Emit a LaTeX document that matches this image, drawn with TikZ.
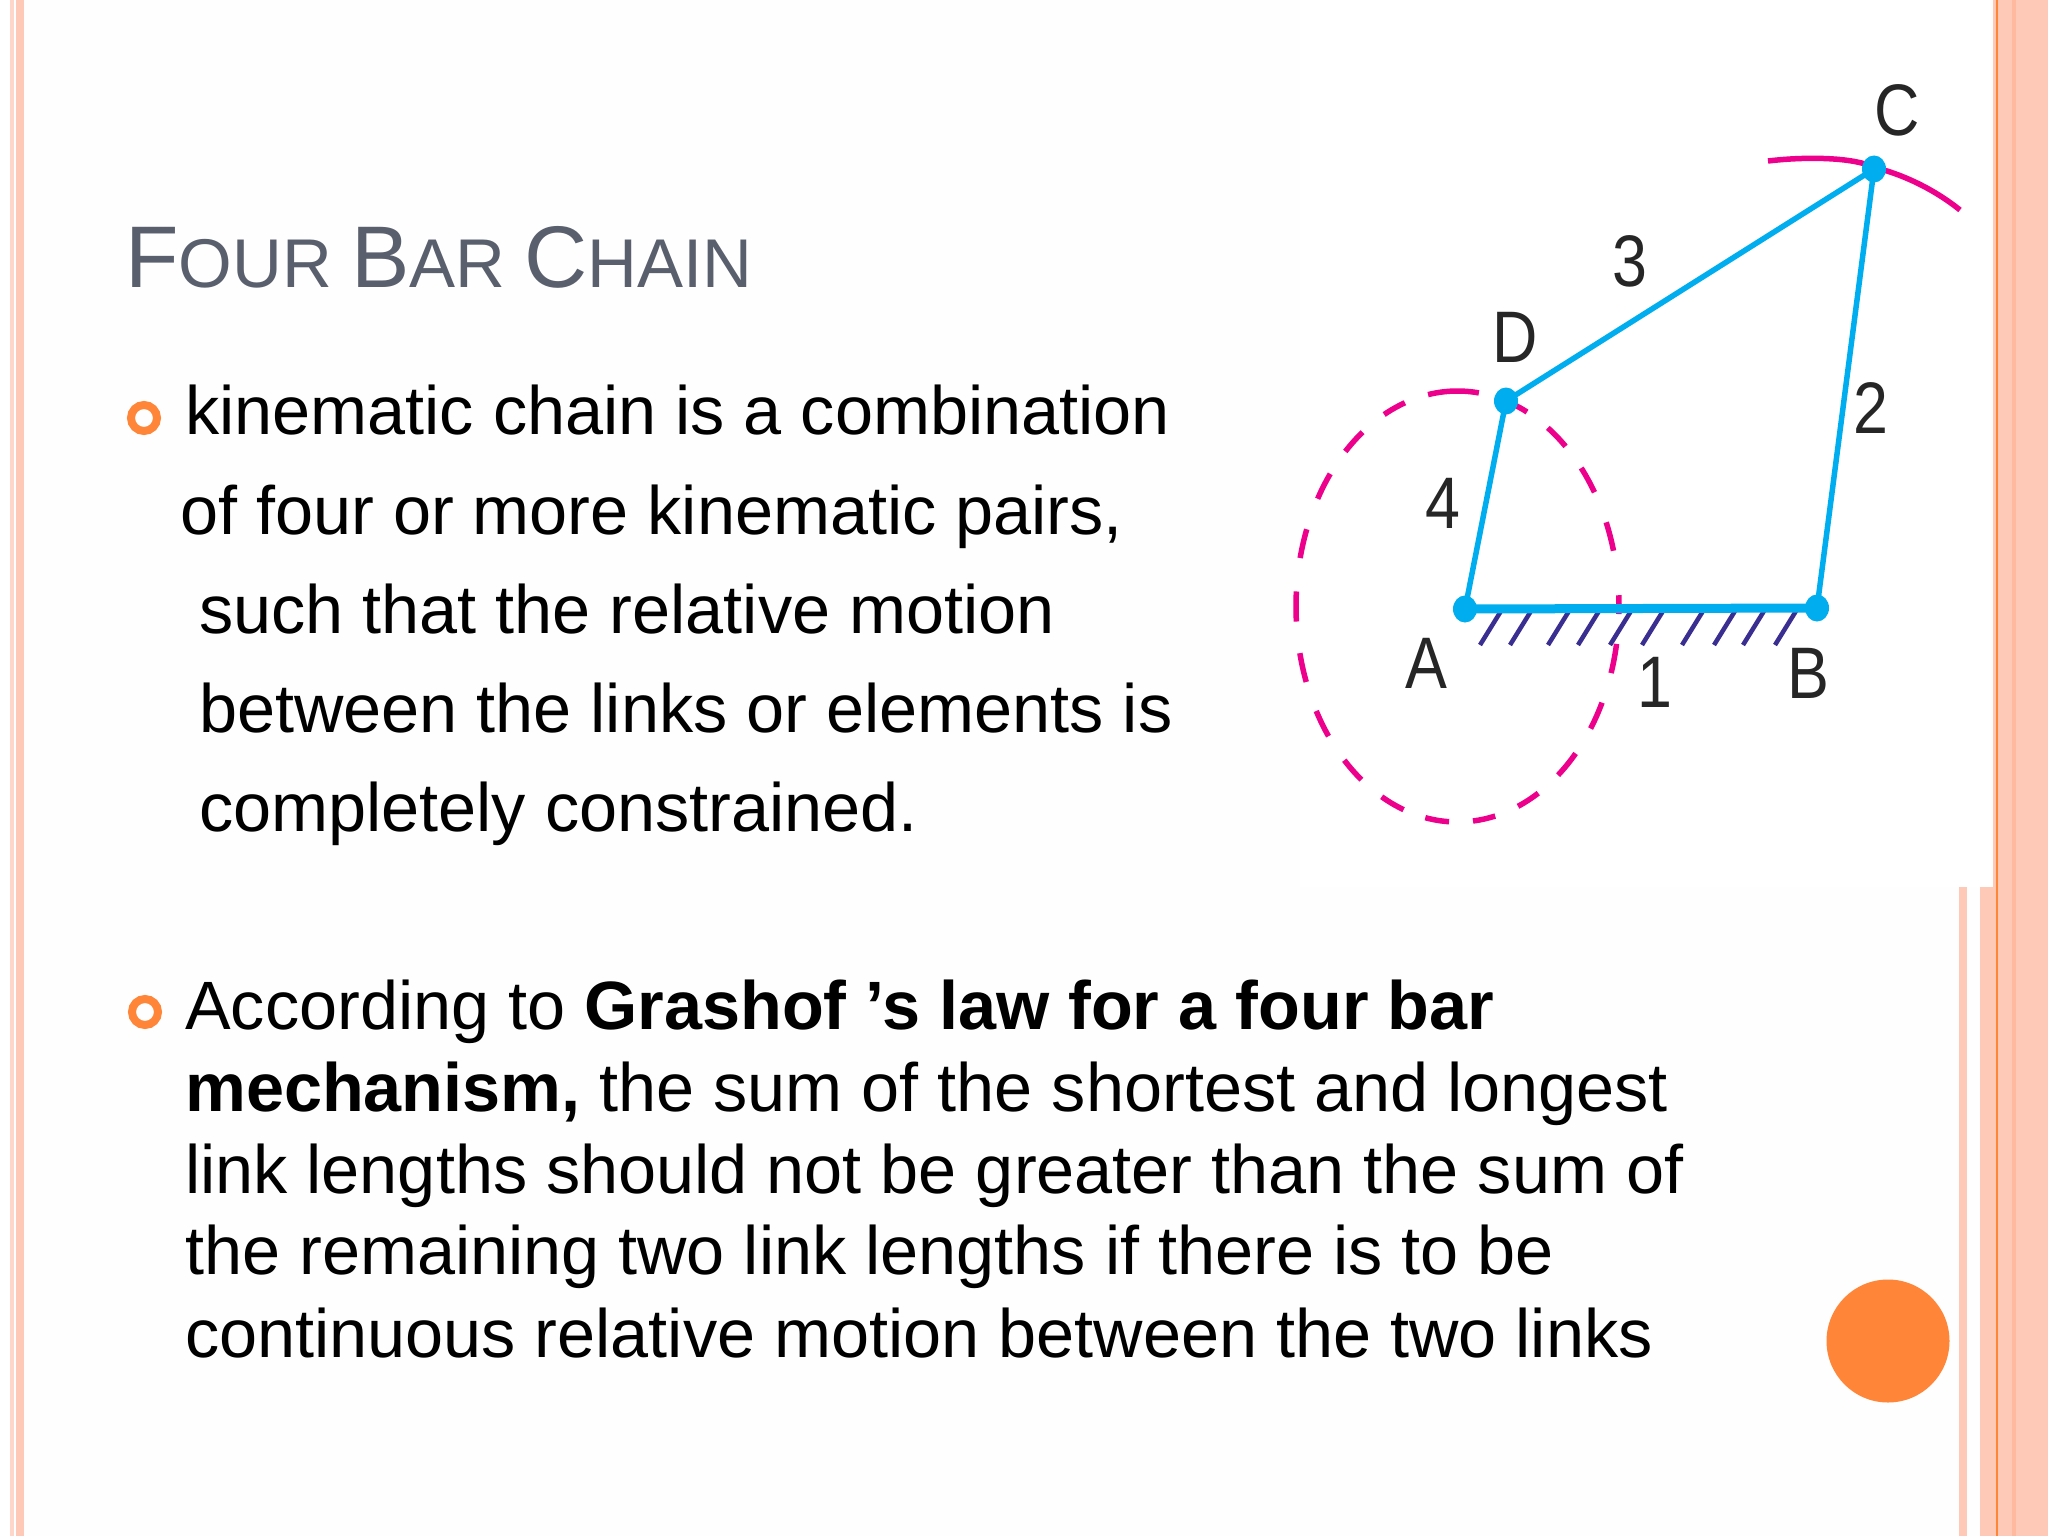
\documentclass[tikz,border=0pt]{standalone}
\usepackage{fontspec}
\setmainfont{Liberation Sans}
\usetikzlibrary{shapes.geometric}
\definecolor{pale}{HTML}{FFC9B8}
\definecolor{palel}{HTML}{FFD6CA}
\definecolor{paled}{HTML}{FFB99F}
\definecolor{orng}{HTML}{FF8639}
\definecolor{titlec}{HTML}{5A5F6D}
\definecolor{cyanl}{HTML}{00AEEF}
\definecolor{magl}{HTML}{EC008C}
\definecolor{hatchc}{HTML}{3A2E91}
\definecolor{bgc}{HTML}{FDFEFD}
\tikzset{
  body/.style={anchor=base west,inner sep=0pt,text=black,font=\fontsize{68.4}{68.4}\selectfont},
  lab/.style={inner sep=0pt,text=black!85,font=\fontsize{73}{73}\selectfont},
  ring/.style={draw=orng,line width=8pt,fill=none},
  link/.style={draw=cyanl,line width=5.5pt},
  joint/.style={ellipse,fill=cyanl,inner sep=0pt,minimum width=24pt,minimum height=27pt},
  hatch/.style={draw=hatchc,line width=4.5pt},
  magstroke/.style={draw=magl,line width=5.5pt}
}
\newcommand{\lbl}[1]{\scalebox{.86}[1]{#1}}
\begin{document}
\begin{tikzpicture}[x=1pt,y=-1pt]
\useasboundingbox (0,0) rectangle (2048,1536);
\fill[bgc] (0,0) rectangle (2048,1536);
% left bands
\fill[white] (0,0) rectangle (24,1536);
\fill[palel] (10,0) rectangle (14,1536);
\fill[pale] (16,0) rectangle (24,1536);
% white panel under photo
\fill[white] (1300,0) rectangle (1993,887);
% right bands
\fill[pale] (1993,0) rectangle (2048,887);
\fill[pale] (1959,887) rectangle (1967,1536);
\fill[pale] (1980,887) rectangle (2048,1536);
\fill[paled] (2012,0) rectangle (2016,1536);
\fill[orng] (1996,0) rectangle (1998,1536);
% circle
\node[circle,fill=orng,inner sep=0pt,minimum size=123pt] (blob) at (1888,1341) {};
% title
\node[anchor=base west,inner sep=0pt,text=titlec] (title) at (125,287)
 {\fontsize{87.5}{87.5}\selectfont F\fontsize{69}{69}\selectfont OUR \fontsize{87.5}{87.5}\selectfont B\fontsize{69}{69}\selectfont AR \fontsize{87.5}{87.5}\selectfont C\fontsize{69}{69}\selectfont HAIN};
% bullets
\node[circle,ring,inner sep=0pt,minimum size=26pt] (b1) at (144,418) {};
\node[circle,ring,inner sep=0pt,minimum size=26pt] (b2) at (145,1012) {};
% text
\node[body] (t1) at (185,434) {kinematic chain is a combination};
\node[body] (t2) at (180,534) {of four or more kinematic pairs,};
\node[body] (t3) at (199,633) {such that the relative motion};
\node[body] (t4) at (199,732) {between the links or elements is};
\node[body] (t5) at (199,831) {completely constrained.};
\node[body] (u1) at (185,1029) {According to \textbf{Grashof ’s law for a four bar}};
\node[body] (u2) at (185,1111) {\textbf{mechanism,} the sum of the shortest and longest};
\node[body] (u3) at (185,1193) {link lengths should not be greater than the sum of};
\node[body] (u4) at (185,1274) {the remaining two link lengths if there is to be};
\node[body] (u5) at (185,1357) {continuous relative motion between the two links};
% mechanism
\coordinate (ec) at (1457.5,606.5);
\foreach \a/\b in {82.4/100.5,109/117,126/134,142/150,159/167,176/184,192.5/200.5,209/217,225.5/233.5,242/250.5,258.5/267,275.5/283.5,292/300,308.5/317,325.5/333.5,342/350,358/363,15/23,32/40,48/56,64.5/72.5}{
  \draw[magstroke] (ec) ++(-\a:161.5 and 215.5) arc[start angle=-\a,end angle=-\b,x radius=161.5,y radius=215.5];
}
\draw[magstroke] (1768,161) .. controls (1810,156) and (1855,158) .. (1873,167) .. controls (1905,175) and (1935,190) .. (1960,210);
\foreach \bx in {1480,1510,1548,1578,1610,1642,1682,1714,1743,1775}{
  \draw[hatch] (\bx,645) -- ++(21,-34);
}
\coordinate (A) at (1465,609);
\coordinate (B) at (1817,608);
\coordinate (C) at (1874,169);
\coordinate (D) at (1506,401);
\draw[link,line width=9pt] (A) -- (B);
\draw[link] (A) -- (D);
\draw[link] (D) -- (C);
\draw[link] (C) -- (B);
\node[joint] (ja) at (A) {};
\node[joint] (jb) at (B) {};
\node[joint] (jc) at (C) {};
\node[joint] (jd) at (D) {};
\node[lab] (la) at (1426,663) {\lbl{A}};
\node[lab] (lb) at (1808,673) {\lbl{B}};
\node[lab] (lc) at (1897,110) {\lbl{C}};
\node[lab] (ld) at (1515,337) {\lbl{D}};
\node[lab] (n1) at (1655,682) {\lbl{1}};
\node[lab] (n2) at (1871,408) {\lbl{2}};
\node[lab] (n3) at (1630,261) {\lbl{3}};
\node[lab] (n4) at (1443,503) {\lbl{4}};
\end{tikzpicture}
\end{document}
